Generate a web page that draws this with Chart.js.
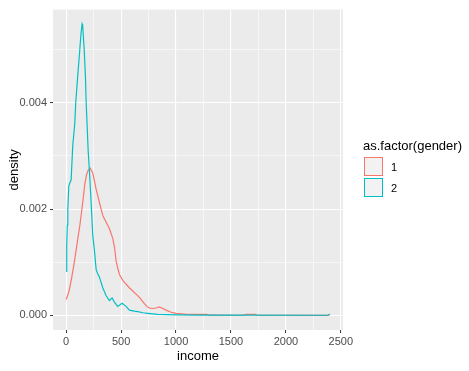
<!DOCTYPE html>
<html>
<head>
<meta charset="utf-8">
<script src="https://cdn.jsdelivr.net/npm/chart.js@4/dist/chart.umd.min.js"></script>
<style>
  body { margin: 0; background: #fff; font-family: 'Liberation Sans', Arial, sans-serif; }
  #wrap { position: relative; width: 469px; height: 371px; }
  .legend-title { position: absolute; left: 363px; top: 138px; font-size: 13px; color: #000; }
  .key { position: absolute; left: 364px; width: 19px; height: 19px; box-sizing: border-box; background: #F2F2F2; border: 1.3px solid; }
  .key-label { position: absolute; left: 391px; font-size: 11px; color: #000; line-height: 13px; }
</style>
</head>
<body>
<div id="wrap">
  <canvas id="densityChart" width="469" height="371"></canvas>
  <div class="legend-title">as.factor(gender)</div>
  <div class="key" style="top:157px; border-color:#F8766D"></div>
  <div class="key-label" style="top:161px">1</div>
  <div class="key" style="top:178px; border-color:#00BFC4"></div>
  <div class="key-label" style="top:182px">2</div>
</div>
<script>
// gender 1
const income1 = [0, 25, 45, 70, 90, 110, 125, 140, 155, 170, 185, 200, 218, 242, 273, 303, 333, 364, 394, 424, 440, 455, 470, 485, 515, 545, 575, 606, 636, 667, 690, 712, 735, 758, 790, 818, 848, 880, 910, 955, 1000, 1050, 1100, 1200, 1280, 1300, 1600, 1640, 1720, 1740, 2380, 2400];
const density1 = [0.0003, 0.00045, 0.00065, 0.00095, 0.00122, 0.0015, 0.0017, 0.00195, 0.0022, 0.00248, 0.00264, 0.00273, 0.00277, 0.00268, 0.00237, 0.00212, 0.00188, 0.00175, 0.00163, 0.00145, 0.00128, 0.00102, 0.00088, 0.00077, 0.00066, 0.00059, 0.00052, 0.00046, 0.0004, 0.00034, 0.00028, 0.00022, 0.00017, 0.00014, 0.00013, 0.00014, 0.00016, 0.00013, 0.0001, 0.00006, 0.00004, 0.00003, 0.00002, 0.00002, 0.00002, 0.000004, 0.000003, 0.00002, 0.00002, 0.000003, 0.000002, 0.00002];

// gender 2
const income2 = [0, 5, 10, 15, 24, 35, 45, 60, 78, 87, 105, 124, 135, 145, 150, 164, 175, 182, 190, 200, 212, 220, 227, 242, 258, 273, 288, 303, 333, 364, 394, 418, 439, 469, 490, 509, 545, 576, 620, 652, 700, 742, 833, 1000, 1200, 1500, 2380, 2400];
const density2 = [0.00083, 0.0013, 0.0017, 0.002, 0.00243, 0.0025, 0.00255, 0.0032, 0.0036, 0.004, 0.0045, 0.005, 0.0053, 0.00548, 0.00545, 0.005, 0.0045, 0.004, 0.0036, 0.0031, 0.0027, 0.0024, 0.00212, 0.00151, 0.0012, 0.00086, 0.00078, 0.00072, 0.00052, 0.00037, 0.00028, 0.00033, 0.00025, 0.00017, 0.0002, 0.00023, 0.00017, 0.0001, 0.00008, 0.00007, 0.00005, 0.00004, 0.00002, 0.00001, 0.000006, 0.000004, 0.000003, 0.00002];

const xTicks = [0, 250, 500, 750, 1000, 1250, 1500, 1750, 2000, 2250, 2500];
const yTicks = [0, 0.001, 0.002, 0.003, 0.004, 0.005];

const toPoints = (xs, ys) => xs.map((x, i) => ({ x, y: ys[i] }));
const isMajorX = v => v % 500 === 0;
const isMajorY = v => Math.round(v * 1000) % 2 === 0;

const panelBg = {
  id: 'panelBg',
  beforeDraw(chart) {
    const { ctx, chartArea: a } = chart;
    ctx.save();
    ctx.fillStyle = '#EBEBEB';
    ctx.fillRect(a.left, a.top, a.right - a.left, a.bottom - a.top);
    ctx.restore();
  }
};

const tickFont = { family: "'Liberation Sans', Arial, sans-serif", size: 11 };
const titleFont = { family: "'Liberation Sans', Arial, sans-serif", size: 13 };

new Chart(document.getElementById('densityChart'), {
  type: 'line',
  data: {
    datasets: [
      { label: '1', data: toPoints(income1, density1), borderColor: '#F8766D', borderWidth: 1.2, pointRadius: 0, tension: 0, fill: false, order: 1 },
      { label: '2', data: toPoints(income2, density2), borderColor: '#00BFC4', borderWidth: 1.2, pointRadius: 0, tension: 0, fill: false, order: 0 }
    ]
  },
  options: {
    responsive: false,
    animation: false,
    layout: { padding: { left: 0, top: 3, right: 126, bottom: 0 } },
    plugins: { legend: { display: false }, tooltip: { enabled: false } },
    scales: {
      x: {
        type: 'linear',
        min: -120,
        max: 2520,
        afterBuildTicks: s => { s.ticks = xTicks.map(v => ({ value: v })); },
        afterFit: s => { s.height = 41; },
        border: { display: false },
        grid: {
          color: '#FFFFFF',
          lineWidth: c => isMajorX(c.tick.value) ? 1.1 : 0.55,
          tickLength: 3,
          tickColor: c => isMajorX(c.tick.value) ? '#333333' : 'rgba(0,0,0,0)',
          tickWidth: 1
        },
        ticks: {
          color: '#4D4D4D',
          font: tickFont,
          padding: 2,
          maxRotation: 0,
          autoSkip: false,
          callback: v => isMajorX(v) ? String(v) : ''
        },
        title: { display: true, text: 'income', color: '#000', font: titleFont, padding: { top: 0, bottom: 7 } }
      },
      y: {
        min: -0.000274,
        max: 0.00575,
        afterBuildTicks: s => { s.ticks = yTicks.map(v => ({ value: v })); },
        afterFit: s => { s.width = 53; },
        border: { display: false },
        grid: {
          color: '#FFFFFF',
          lineWidth: c => isMajorY(c.tick.value) ? 1.1 : 0.55,
          tickLength: 3,
          tickColor: c => isMajorY(c.tick.value) ? '#333333' : 'rgba(0,0,0,0)',
          tickWidth: 1
        },
        ticks: {
          color: '#4D4D4D',
          font: tickFont,
          padding: 3,
          autoSkip: false,
          callback: v => isMajorY(v) ? v.toFixed(3) : ''
        },
        title: { display: true, text: 'density', color: '#000', font: titleFont, padding: { top: 7, bottom: 0 } }
      }
    }
  },
  plugins: [panelBg]
});
</script>
</body>
</html>
